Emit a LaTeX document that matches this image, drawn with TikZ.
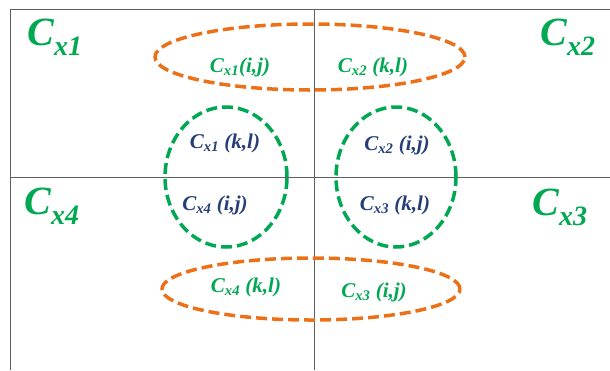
\documentclass[tikz,border=0pt]{standalone}
\usepackage{fontspec}
\setmainfont{Liberation Serif}
\usetikzlibrary{shapes.geometric}
\definecolor{ClusterGreen}{RGB}{0,168,82}
\definecolor{PairOrange}{RGB}{236,112,24}
\definecolor{IndexBlue}{RGB}{38,62,120}
\definecolor{FrameGray}{RGB}{95,95,95}

\begin{document}
\begin{tikzpicture}[x=1pt, y=-1pt,
      every node/.style={inner sep=0pt},
      quad/.style={text=ClusterGreen, font=\fontsize{40}{40}\selectfont\bfseries\itshape},
      pairgreen/.style={text=ClusterGreen, font=\fontsize{21}{21}\selectfont\bfseries\itshape},
      pairblue/.style={text=IndexBlue, font=\fontsize{21}{21}\selectfont\bfseries\itshape},
      hring/.style={ellipse, draw=PairOrange, line width=3.5pt, dash pattern=on 11pt off 5pt},
      vring/.style={ellipse, draw=ClusterGreen, line width=3.5pt, dash pattern=on 11pt off 5pt},
      axis/.style={draw=FrameGray, line width=0.8pt}
    ]
      \useasboundingbox (0,0) rectangle (610,370);

      % Frame and quadrant axes
      \coordinate (corner) at (10,9);
      \coordinate (topright) at (610,9);
      \coordinate (botleft) at (10,370);
      \coordinate (top) at (314,9);
      \coordinate (bottom) at (314,370);
      \coordinate (left) at (10,177);
      \coordinate (right) at (610,177);
      \draw[axis] (botleft) -- (corner) -- (topright);
      \draw[axis] (top) -- (bottom);
      \draw[axis] (left) -- (right);

      % Quadrant labels
      \node[quad] (cx1) at (55,37) {C\textsubscript{x1}};
      \node[quad] (cx2) at (568,37) {C\textsubscript{x2}};
      \node[quad] (cx4) at (52,206) {C\textsubscript{x4}};
      \node[quad] (cx3) at (560,207) {C\textsubscript{x3}};

      % Rings
      \node[hring, minimum width=310pt, minimum height=66pt] (ringtop) at (310,57) {};
      \node[hring, minimum width=298pt, minimum height=62pt] (ringbot) at (311,289) {};
      \node[vring, minimum width=122pt, minimum height=140pt] (ringleft) at (226,177) {};
      \node[vring, minimum width=120pt, minimum height=140pt] (ringright) at (396,177) {};

      % Row 1
      \node[pairgreen] (p1ij) at (240,67) {C\textsubscript{x1}(i,j)};
      \node[pairgreen] (p2kl) at (373,67) {C\textsubscript{x2} (k,l)};

      % Row 2
      \node[pairblue] (p1kl) at (225,143) {C\textsubscript{x1} (k,l)};
      \node[pairblue] (p2ij) at (397,145) {C\textsubscript{x2} (i,j)};

      % Row 3
      \node[pairblue] (p4ij) at (215,205) {C\textsubscript{x4} (i,j)};
      \node[pairblue] (p3kl) at (395,205) {C\textsubscript{x3} (k,l)};

      % Row 4
      \node[pairgreen] (p4kl) at (246,287) {C\textsubscript{x4} (k,l)};
      \node[pairgreen] (p3ij) at (374,292) {C\textsubscript{x3} (i,j)};
    \end{tikzpicture}
\end{document}
